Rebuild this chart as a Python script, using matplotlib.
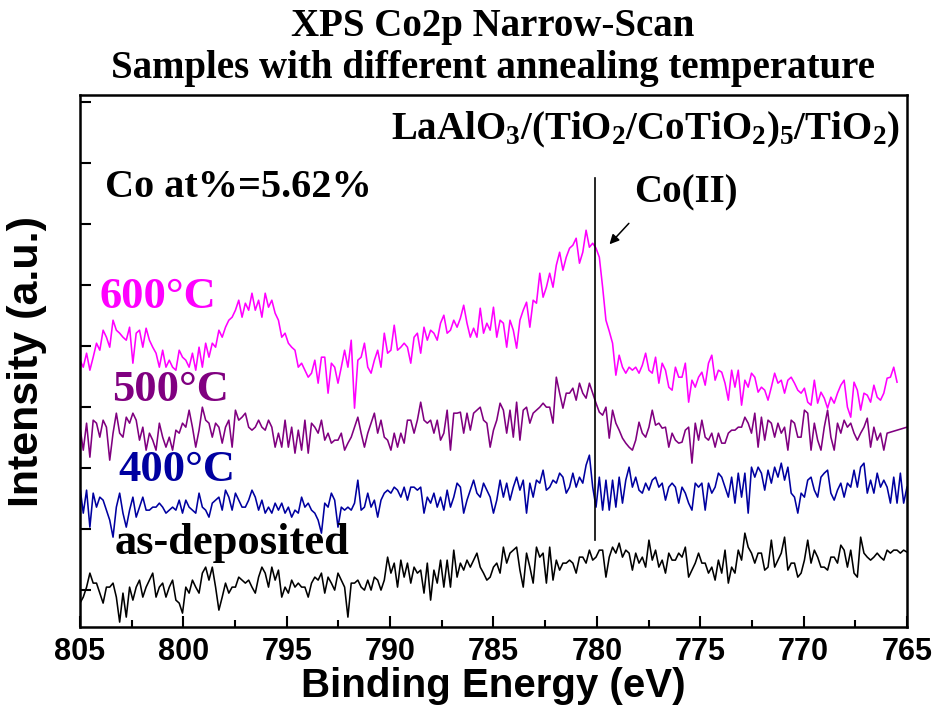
import numpy as np
import matplotlib
matplotlib.use("Agg")
import matplotlib.pyplot as plt

plt.rcParams["mathtext.fontset"] = "custom"
plt.rcParams["mathtext.rm"] = "Liberation Serif:bold"
plt.rcParams["mathtext.it"] = "Liberation Serif:bold"
plt.rcParams["mathtext.bf"] = "Liberation Serif:bold"

# binding energy grid, 0.16 eV step from 805 down to 765 eV
energy = 805 - 0.16 * np.arange(251)

# Co2p narrow scans (offset counts, a.u.)
as_deposited = [
    24, 30, 40, 54, 44, 44, 34, 24, 40, 40, 44, 30, 5, 34, 10, 40, 27, 40,
    47, 30, 40, 47, 54, 30, 40, 44, 30, 40, 47, 27, 24, 14, 40, 34, 47, 40,
    34, 54, 60, 47, 60, 40, 17, 30, 44, 34, 40, 40, 50, 47, 44, 47, 40, 34,
    50, 60, 54, 40, 60, 47, 57, 30, 40, 34, 47, 40, 44, 40, 40, 30, 44, 50,
    47, 54, 34, 50, 44, 37, 54, 47, 40, 10, 44, 44, 47, 40, 37, 47, 37, 50,
    47, 37, 47, 70, 54, 64, 40, 67, 50, 64, 44, 60, 54, 57, 34, 64, 27, 57,
    44, 67, 40, 67, 40, 77, 50, 64, 57, 67, 60, 67, 74, 60, 54, 47, 50, 60,
    64, 54, 80, 64, 74, 77, 80, 57, 40, 74, 60, 44, 80, 70, 74, 44, 80, 47,
    67, 57, 64, 64, 67, 64, 54, 70, 70, 64, 77, 67, 70, 77, 77, 50, 70, 80,
    74, 84, 70, 77, 74, 57, 74, 64, 70, 60, 87, 67, 77, 60, 67, 54, 74, 67,
    67, 74, 70, 80, 50, 57, 64, 74, 64, 64, 54, 60, 47, 67, 54, 77, 44, 60,
    54, 77, 67, 94, 80, 74, 64, 74, 74, 57, 60, 87, 60, 67, 74, 90, 57, 64,
    64, 50, 54, 67, 87, 64, 77, 70, 60, 60, 57, 70, 70, 64, 82, 77, 60, 77,
    54, 50, 90, 74, 70, 67, 70, 74, 70, 67, 77, 74, 77, 77, 74, 77, 75,
]
t400 = [
    140, 114, 137, 100, 134, 120, 130, 127, 117, 107, 90, 120, 134, 114, 100, 117, 130, 110,
    120, 130, 117, 117, 120, 120, 124, 120, 114, 117, 120, 117, 127, 114, 127, 120, 117, 114,
    134, 120, 117, 110, 124, 127, 130, 117, 137, 130, 117, 134, 127, 120, 120, 127, 137, 130,
    117, 127, 114, 120, 114, 124, 117, 124, 114, 120, 110, 117, 114, 130, 120, 124, 117, 114,
    107, 94, 124, 120, 134, 127, 100, 120, 117, 120, 117, 124, 147, 117, 120, 134, 120, 127,
    110, 127, 134, 137, 134, 140, 137, 130, 140, 127, 140, 140, 137, 140, 114, 130, 124, 134,
    120, 130, 117, 137, 120, 130, 144, 140, 114, 127, 137, 147, 134, 130, 144, 137, 130, 114,
    127, 147, 130, 144, 127, 140, 150, 137, 147, 114, 144, 130, 147, 144, 157, 137, 140, 147,
    144, 154, 150, 134, 140, 154, 140, 150, 144, 162, 172, 140, 120, 150, 117, 147, 117, 147,
    120, 150, 124, 147, 160, 140, 150, 137, 134, 144, 137, 147, 150, 140, 144, 127, 140, 144,
    140, 124, 140, 134, 124, 117, 144, 140, 144, 117, 144, 134, 140, 154, 150, 140, 130, 150,
    124, 154, 130, 154, 114, 160, 150, 160, 154, 137, 157, 144, 160, 150, 164, 147, 160, 134,
    130, 114, 134, 130, 147, 150, 137, 130, 150, 154, 157, 134, 127, 137, 144, 130, 144, 140,
    157, 140, 160, 164, 134, 147, 134, 154, 140, 147, 140, 124, 150, 124, 154, 124, 140,
]
t500 = [
    200, 177, 204, 170, 207, 204, 190, 207, 200, 167, 194, 214, 194, 190, 210, 204, 214, 207,
    187, 200, 177, 194, 187, 177, 204, 190, 180, 190, 177, 197, 194, 204, 200, 217, 200, 180,
    197, 220, 207, 204, 190, 204, 200, 184, 200, 207, 180, 217, 207, 210, 214, 200, 197, 200,
    207, 200, 197, 207, 200, 180, 194, 180, 207, 180, 200, 174, 197, 177, 207, 174, 204, 200,
    194, 207, 187, 194, 184, 187, 187, 194, 177, 184, 190, 200, 210, 194, 180, 194, 204, 214,
    194, 207, 190, 187, 177, 194, 180, 194, 184, 207, 207, 194, 207, 225, 207, 204, 207, 194,
    207, 187, 194, 217, 177, 214, 214, 215, 194, 214, 197, 214, 217, 220, 207, 204, 180, 197,
    207, 224, 217, 194, 217, 190, 225, 187, 217, 220, 204, 214, 217, 220, 224, 220, 220, 204,
    250, 234, 219, 234, 234, 239, 227, 244, 234, 229, 244, 234, 224, 215, 212, 220, 189, 217,
    204, 197, 189, 184, 180, 177, 187, 205, 194, 190, 200, 217, 202, 204, 199, 200, 180, 194,
    187, 184, 185, 197, 200, 164, 204, 187, 207, 190, 187, 194, 180, 194, 184, 184, 194, 197,
    197, 200, 200, 210, 204, 194, 214, 180, 210, 187, 207, 204, 190, 204, 194, 200, 177, 207,
    204, 190, 190, 217, 214, 177, 204, 187, 177, 200, 217, 190, 177, 204, 194, 207, 200, 204,
    194, 187, 194, 200, 209, 180, 200, 187, 194, 177, 194, 200,
]
t600 = [
    267, 260, 274, 257, 270, 284, 277, 297, 290, 280, 307, 297, 294, 290, 287, 300, 264, 294,
    297, 280, 299, 287, 280, 274, 260, 277, 260, 267, 260, 257, 277, 270, 267, 260, 274, 257,
    280, 260, 284, 270, 284, 280, 297, 290, 300, 307, 310, 317, 327, 310, 324, 317, 334, 317,
    327, 310, 334, 320, 327, 314, 307, 290, 294, 284, 280, 277, 260, 264, 257, 250, 254, 267,
    244, 270, 270, 234, 264, 260, 244, 260, 277, 260, 287, 219, 267, 270, 284, 260, 254, 267,
    277, 260, 294, 274, 277, 302, 277, 280, 284, 280, 264, 290, 294, 274, 300, 287, 297, 294,
    287, 304, 312, 294, 297, 307, 300, 309, 322, 304, 290, 299, 290, 319, 294, 304, 297, 320,
    290, 307, 304, 280, 307, 297, 279, 307, 317, 325, 300, 327, 324, 354, 330, 340, 354, 340,
    362, 375, 357, 370, 379, 382, 389, 364, 375, 397, 380, 384, 379, 370, 340, 307, 296, 284,
    252, 272, 260, 254, 260, 257, 260, 254, 262, 274, 257, 254, 270, 244, 264, 257, 240, 237,
    260, 250, 250, 264, 225, 247, 240, 250, 255, 242, 264, 272, 247, 257, 255, 244, 227, 257,
    240, 257, 222, 247, 240, 254, 250, 235, 240, 237, 227, 240, 254, 244, 247, 234, 247, 250,
    244, 237, 234, 239, 225, 222, 247, 224, 235, 229, 219, 230, 224, 234, 242, 247, 220, 210,
    245, 237, 217, 234, 232, 225, 242, 230, 227, 234, 249, 250, 260, 245,
]

labels = ["as-deposited", "400\u00b0C", "500\u00b0C", "600\u00b0C"]
colors = ["black", "#0000A0", "#800080", "#FF00FF"]
co2_peak = 780.1

fig = plt.figure(figsize=(9.33, 7.11), dpi=100)
ax = fig.add_axes([0.0857, 0.118, 0.8864, 0.748])

ax.plot(energy, as_deposited, color=colors[0], lw=1.15)
ax.plot(energy, t400, color=colors[1], lw=1.15)
ax.plot(np.append(energy[:245], 765.0), t500, color=colors[2], lw=1.15)
ax.plot(energy[:len(t600)], t600, color=colors[3], lw=1.15)

ax.set_xlim(805, 765)
ax.set_ylim(0, 532)
ax.set_xticks(np.arange(805, 764, -5))
ax.set_xticks(np.arange(802.5, 765, -5), minor=True)
ax.set_yticks(37 + 61 * np.arange(9))
ax.set_yticklabels([])
ax.tick_params(axis="x", which="major", direction="in", length=8, width=1.5,
               labelsize=22, pad=7)
ax.tick_params(axis="x", which="minor", direction="in", length=5, width=1.5)
ax.tick_params(axis="y", direction="in", length=8, width=1.5)
for lbl in ax.get_xticklabels():
    lbl.set_fontfamily("Liberation Sans")
    lbl.set_fontweight("bold")
for s in ax.spines.values():
    s.set_linewidth(1.8)

ax.set_xlabel("Binding Energy (eV)", fontsize=29, fontweight="bold",
              family="Liberation Sans", labelpad=0)
ax.set_ylabel("Intensity (a.u.)", fontsize=31, fontweight="bold",
              family="Liberation Sans")
ax.yaxis.set_label_coords(-0.040, 0.5)

serif = dict(family="Liberation Serif", fontweight="bold")
fig.text(0.528, 0.963, "XPS Co2p Narrow-Scan", ha="center", va="center",
         fontsize=28, **serif)
fig.text(0.528, 0.903, "Samples with different annealing temperature",
         ha="center", va="center", fontsize=28, **serif)

# sample labels next to each trace
label_pos = [(0.042, 0.158), (0.046, 0.295), (0.039, 0.445), (0.024, 0.62)]
for (x, y), name, c in zip(label_pos, labels, colors):
    ax.text(x, y, name, color=c, fontsize=32, transform=ax.transAxes,
            ha="left", va="center", **serif)

ax.text(0.992, 0.935, r"LaAlO$_3$/(TiO$_2$/CoTiO$_2$)$_5$/TiO$_2$)",
        transform=ax.transAxes, ha="right", va="center", fontsize=28, **serif)
ax.text(0.030, 0.827, "Co at%=5.62%", transform=ax.transAxes, ha="left",
        va="center", fontsize=29, **serif)
ax.text(0.733, 0.816, "Co(II)", transform=ax.transAxes, ha="center",
        va="center", fontsize=28, **serif)

ax.plot([co2_peak, co2_peak], [87, 449], color="black", lw=1.2)
ax.annotate("", xy=(0.638, 0.716), xytext=(0.666, 0.763),
            xycoords="axes fraction",
            arrowprops=dict(arrowstyle="-|>", color="black", lw=1.1,
                            mutation_scale=14))

fig.savefig("out.png", dpi=100)
